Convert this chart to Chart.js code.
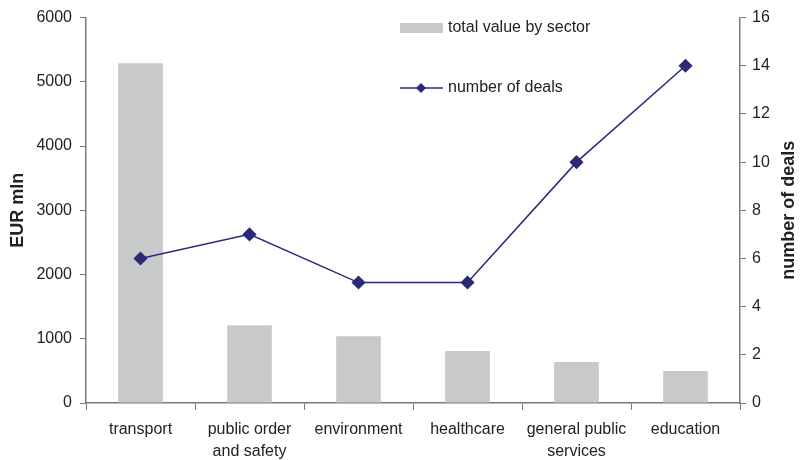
<!DOCTYPE html>
<html>
<head>
<meta charset="utf-8">
<script src="https://cdn.jsdelivr.net/npm/chart.js@4/dist/chart.umd.min.js"></script>
<style>
html,body{margin:0;padding:0;background:#fff;}
#wrap{width:802px;height:460px;position:relative;}
</style>
</head>
<body>
<div id="wrap"><canvas id="c" width="802" height="460"></canvas></div>
<script>
const categories = ["transport", ["public order","and safety"], "environment", "healthcare", ["general public","services"], "education"];
const totalValue = [5290, 1210, 1040, 810, 640, 500];
const numberOfDeals = [6, 7, 5, 5, 10, 14];
const leftTicksMax = 6000, leftStep = 1000;
const rightTicksMax = 16, rightStep = 2;

const FONT = "'Liberation Sans', Arial, sans-serif";
const TXT = '#222';
const AX = '#7a7a7a';
const BAR = '#c8c9cb';
const LINE = '#2b2a78';

const extras = {
  id: 'extras',
  afterDraw(chart) {
    const ctx = chart.ctx;
    const ca = chart.chartArea;
    ctx.save();
    ctx.fillStyle = TXT;
    ctx.font = "bold 18px " + FONT;
    ctx.textAlign = 'center';
    ctx.textBaseline = 'middle';
    const cy = (ca.top + ca.bottom) / 2;
    ctx.save(); ctx.translate(18, cy); ctx.rotate(-Math.PI/2); ctx.fillText('EUR mln', 0, 0); ctx.restore();
    ctx.save(); ctx.translate(789, cy); ctx.rotate(-Math.PI/2); ctx.fillText('number of deals', 0, 0); ctx.restore();
    ctx.font = "16px " + FONT;
    ctx.textAlign = 'left';
    ctx.fillStyle = BAR;
    ctx.fillRect(400, 23, 43, 10);
    ctx.fillStyle = TXT;
    ctx.fillText('total value by sector', 448, 28);
    ctx.strokeStyle = LINE; ctx.lineWidth = 1.5;
    ctx.beginPath(); ctx.moveTo(400, 88); ctx.lineTo(443, 88); ctx.stroke();
    ctx.fillStyle = LINE;
    ctx.beginPath(); ctx.moveTo(421, 83); ctx.lineTo(426, 88); ctx.lineTo(421, 93); ctx.lineTo(416, 88); ctx.closePath(); ctx.fill();
    ctx.fillStyle = TXT;
    ctx.fillText('number of deals', 448, 88);
    ctx.restore();
  }
};

new Chart(document.getElementById('c'), {
  type: 'bar',
  data: {
    labels: categories,
    datasets: [
      {
        type: 'line', label: 'number of deals', data: numberOfDeals, yAxisID: 'y1', order: 0,
        borderColor: LINE, backgroundColor: LINE, borderWidth: 1.5,
        pointStyle: 'rectRot', pointRadius: 6, pointHoverRadius: 6, tension: 0
      },
      {
        type: 'bar', label: 'total value by sector', data: totalValue, yAxisID: 'y', order: 1,
        backgroundColor: BAR, borderWidth: 0,
        categoryPercentage: 1.0, barPercentage: 0.41
      }
    ]
  },
  options: {
    responsive: false,
    animation: false,
    devicePixelRatio: 1,
    layout: { padding: { top: 11, left: 0, right: 0, bottom: 0 } },
    plugins: { legend: { display: false }, tooltip: { enabled: false } },
    scales: {
      x: {
        offset: true,
        grid: { offset: true, drawOnChartArea: false, drawTicks: true, tickLength: 7, color: AX },
        border: { color: AX, width: 1.5 },
        ticks: { color: TXT, font: { family: FONT, size: 16, lineHeight: 1.4 }, padding: 8, maxRotation: 0, autoSkip: false },
        afterFit(s) { s.height = 57; }
      },
      y: {
        position: 'left', min: 0, max: leftTicksMax,
        grid: { drawOnChartArea: false, drawTicks: true, tickLength: 6, color: AX },
        border: { color: AX, width: 1.5 },
        ticks: { stepSize: leftStep, color: TXT, font: { family: FONT, size: 16 }, padding: 8, callback: v => String(v) },
        afterFit(s) { s.width = 86; }
      },
      y1: {
        position: 'right', min: 0, max: rightTicksMax,
        grid: { drawOnChartArea: false, drawTicks: true, tickLength: 6, color: AX },
        border: { color: AX, width: 1.5 },
        ticks: { stepSize: rightStep, color: TXT, font: { family: FONT, size: 16 }, padding: 6, callback: v => String(v) },
        afterFit(s) { s.width = 62; }
      }
    }
  },
  plugins: [extras]
});
</script>
</body>
</html>
